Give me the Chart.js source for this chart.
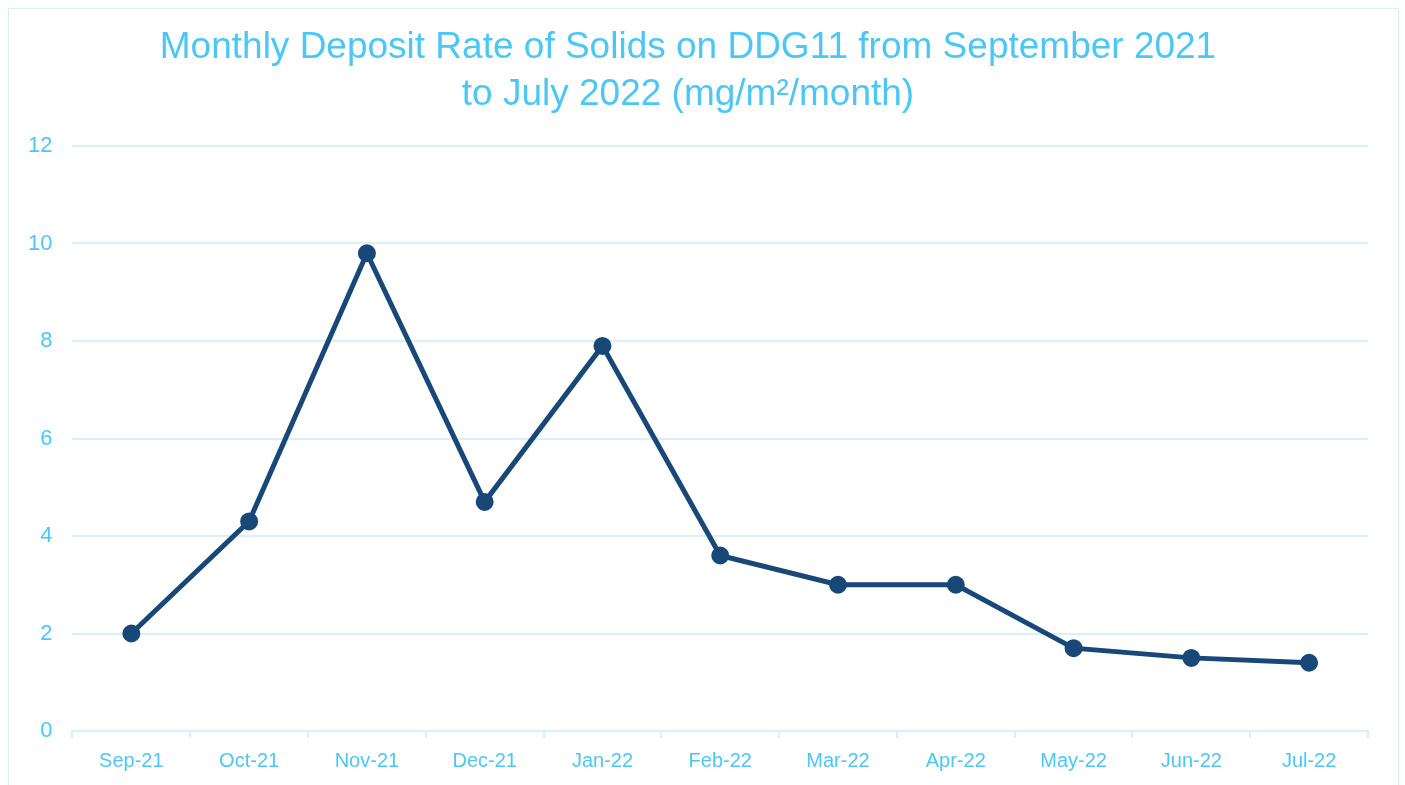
<!DOCTYPE html>
<html>
<head>
<meta charset="utf-8">
<script src="https://cdn.jsdelivr.net/npm/chart.js@4"></script>
<style>
  html, body { margin: 0; padding: 0; background: #fff; }
  #frame { position: absolute; left: 8px; top: 8px; width: 1389px; height: 800px; border: 1px solid #d6effa; }
  #wrap { position: absolute; left: 0; top: 0; width: 1405px; height: 785px; }
</style>
</head>
<body>
<div id="frame"></div>
<div id="wrap"><canvas id="Grafica" width="1405" height="785"></canvas></div>
<script>
// months and deposit rate (mg/m2/month)
const months = ['Sep-21','Oct-21','Nov-21','Dec-21','Jan-22','Feb-22','Mar-22','Apr-22','May-22','Jun-22','Jul-22'];
const depositRate = [2.0, 4.3, 9.8, 4.7, 7.9, 3.6, 3.0, 3.0, 1.7, 1.5, 1.4];
const titleLines = ['Monthly Deposit Rate of Solids on DDG11 from September 2021', 'to July 2022 (mg/m\u00b2/month)'];

const lightBlue = '#4cc7f5';
const gridBlue = '#d7f1fc';
const lineBlue = '#184878';

let ctx = document.getElementById('Grafica').getContext('2d');
new Chart(ctx, {
    type: 'line',
    data: {
        labels: months,
        datasets: [{
            label: 'Deposit rate',
            data: depositRate,
            borderColor: lineBlue,
            backgroundColor: lineBlue,
            borderWidth: 5,
            pointRadius: 6.5,
            pointHoverRadius: 6.5,
            tension: 0
        }]
    },
    options: {
        responsive: false,
        animation: false,
        layout: { padding: { left: 8, right: 37, top: 0, bottom: 1 } },
        plugins: {
            legend: { display: false },
            tooltip: { enabled: false },
            title: {
                display: true,
                text: titleLines,
                color: lightBlue,
                font: { family: 'Liberation Sans, Arial, sans-serif', size: 37, weight: 'normal', lineHeight: 1.25 },
                padding: { top: 25, bottom: 28.5 }
            }
        },
        scales: {
            x: {
                offset: true,
                grid: {
                    offset: true,
                    drawOnChartArea: false,
                    drawTicks: true,
                    tickLength: 7,
                    color: gridBlue,
                    lineWidth: 2
                },
                border: { color: gridBlue, width: 2 },
                ticks: {
                    color: lightBlue,
                    font: { family: 'Liberation Sans, Arial, sans-serif', size: 20 },
                    padding: 11,
                    maxRotation: 0
                }
            },
            y: {
                min: 0,
                max: 12,
                ticks: {
                    stepSize: 2,
                    color: lightBlue,
                    font: { family: 'Liberation Sans, Arial, sans-serif', size: 22 },
                    padding: 20
                },
                grid: { color: gridBlue, lineWidth: 2, drawTicks: false },
                border: { display: false }
            }
        }
    }
});
</script>
</body>
</html>
